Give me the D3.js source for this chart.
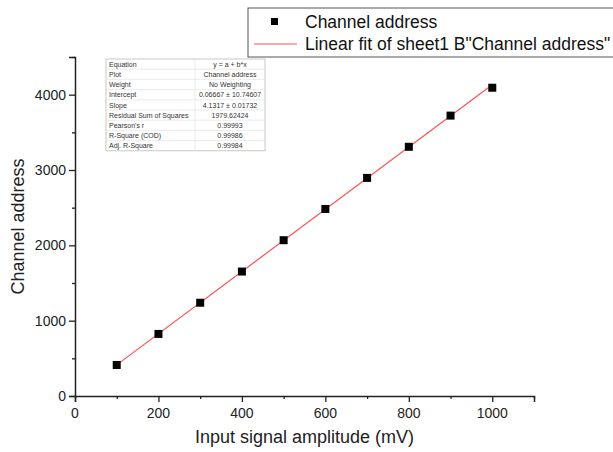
<!DOCTYPE html>
<html>
<head>
<meta charset="utf-8">
<script src="https://cdn.jsdelivr.net/npm/d3@7"></script>
<style>
  body { margin: 0; background: #fff; }
  text { font-family: Arial, "Liberation Sans", sans-serif; }
</style>
</head>
<body>
<main></main>
<script>
// data
const amplitude = [100, 200, 300, 400, 500, 600, 700, 800, 900, 1000];
const channel = [412, 824, 1238, 1652, 2068, 2483, 2895, 3308, 3722, 4092];
const fitIntercept = 0.06667;
const fitSlope = 4.1317;
const xTicks = [0, 200, 400, 600, 800, 1000];
const yTicks = [0, 1000, 2000, 3000, 4000];
const statLabels = ["Equation", "Plot", "Weight", "Intercept", "Slope",
  "Residual Sum of Squares", "Pearson's r", "R-Square (COD)", "Adj. R-Square"];
const statValues = ["y = a + b*x", "Channel address", "No Weighting",
  "0.06667 \u00b1 10.74607", "4.1317 \u00b1 0.01732", "1979.62424",
  "0.99993", "0.99986", "0.99984"];
const legendLabels = ["Channel address", "Linear fit of sheet1 B\"Channel address\""];

const svg = d3.select("main").append("svg")
  .attr("width", 613).attr("height", 452);

const x = d3.scaleLinear().domain([0, 1100]).range([75, 534]);
const y = d3.scaleLinear().domain([0, 4500]).range([396, 57]);

// axes
const xAxis = svg.append("g").attr("transform", "translate(0,396)");
xAxis.call(d3.axisBottom(x).tickValues(d3.range(0, 1101, 100)).tickSize(6).tickFormat(""));
xAxis.selectAll(".tick line").attr("y2", d => d % 200 === 0 ? 6 : 3);
xAxis.append("g").selectAll("text")
  .data(xTicks).enter().append("text")
  .attr("x", d => x(d)).attr("y", 22)
  .attr("text-anchor", "middle").attr("fill", "#222")
  .style("font-size", "14px").text(d => d);

const yAxis = svg.append("g").attr("transform", "translate(75,0)");
yAxis.call(d3.axisLeft(y).tickValues(d3.range(0, 4501, 500)).tickSize(6).tickFormat(""));
yAxis.selectAll(".tick line").attr("x2", d => d % 1000 === 0 ? -6 : -3);
yAxis.append("g").selectAll("text")
  .data(yTicks).enter().append("text")
  .attr("x", -9).attr("y", d => y(d) + 5)
  .attr("text-anchor", "end").attr("fill", "#222")
  .style("font-size", "14px").text(d => d);

svg.selectAll(".domain").attr("stroke", "#222").attr("stroke-width", 1.5);
svg.selectAll(".tick line").attr("stroke", "#222").attr("stroke-width", 1.3);

// axis titles
svg.append("text")
  .attr("x", x(550)).attr("y", 443)
  .attr("text-anchor", "middle").attr("fill", "#222")
  .style("font-size", "18px").text("Input signal amplitude (mV)");
svg.append("text")
  .attr("transform", "translate(24," + y(2250) + ") rotate(-90)")
  .attr("text-anchor", "middle").attr("fill", "#222")
  .style("font-size", "18px").text("Channel address");

// fit line
svg.append("line")
  .attr("x1", x(amplitude[0])).attr("y1", y(fitIntercept + fitSlope * amplitude[0]))
  .attr("x2", x(amplitude[amplitude.length - 1]))
  .attr("y2", y(fitIntercept + fitSlope * amplitude[amplitude.length - 1]))
  .attr("stroke", "#ff5050").attr("stroke-width", 1.2);

// points
svg.append("g").selectAll("rect")
  .data(amplitude).enter().append("rect")
  .attr("x", d => x(d) - 4)
  .attr("y", (d, i) => y(channel[i]) - 4)
  .attr("width", 8).attr("height", 8)
  .attr("fill", "#000");

// stats table
const table = svg.append("g").attr("transform", "translate(106,59)");
const rowH = 10.2;
table.append("rect")
  .attr("width", 159).attr("height", rowH * statLabels.length)
  .attr("fill", "#fff").attr("stroke", "#bbb").attr("stroke-width", 0.8);
table.selectAll("line.row")
  .data(d3.range(1, statLabels.length)).enter().append("line")
  .attr("x1", 0).attr("x2", 159)
  .attr("y1", d => d * rowH).attr("y2", d => d * rowH)
  .attr("stroke", "#ddd").attr("stroke-width", 0.6);
table.append("line")
  .attr("x1", 89).attr("x2", 89).attr("y1", 0).attr("y2", rowH * statLabels.length)
  .attr("stroke", "#ddd").attr("stroke-width", 0.6);
table.selectAll("text.lab")
  .data(statLabels).enter().append("text")
  .attr("x", 3).attr("y", (d, i) => i * rowH + 7.8)
  .attr("fill", "#333").style("font-size", "7px").text(d => d);
table.selectAll("text.val")
  .data(statValues).enter().append("text")
  .attr("x", 124).attr("y", (d, i) => i * rowH + 7.8)
  .attr("text-anchor", "middle")
  .attr("fill", "#333").style("font-size", "7px").text(d => d);

// legend
const legend = svg.append("g").attr("transform", "translate(248,8)");
legend.append("rect")
  .attr("width", 370).attr("height", 49)
  .attr("fill", "#fff").attr("stroke", "#555").attr("stroke-width", 1);
legend.append("rect")
  .attr("x", 23).attr("y", 10).attr("width", 7).attr("height", 7)
  .attr("fill", "#000");
legend.append("line")
  .attr("x1", 6).attr("x2", 49).attr("y1", 36).attr("y2", 36)
  .attr("stroke", "#ff5050").attr("stroke-width", 1.2);
legend.selectAll("text")
  .data(legendLabels).enter().append("text")
  .attr("x", 57).attr("y", (d, i) => 20 + i * 22)
  .attr("fill", "#111").style("font-size", "17.5px").text(d => d);
</script>
</body>
</html>
